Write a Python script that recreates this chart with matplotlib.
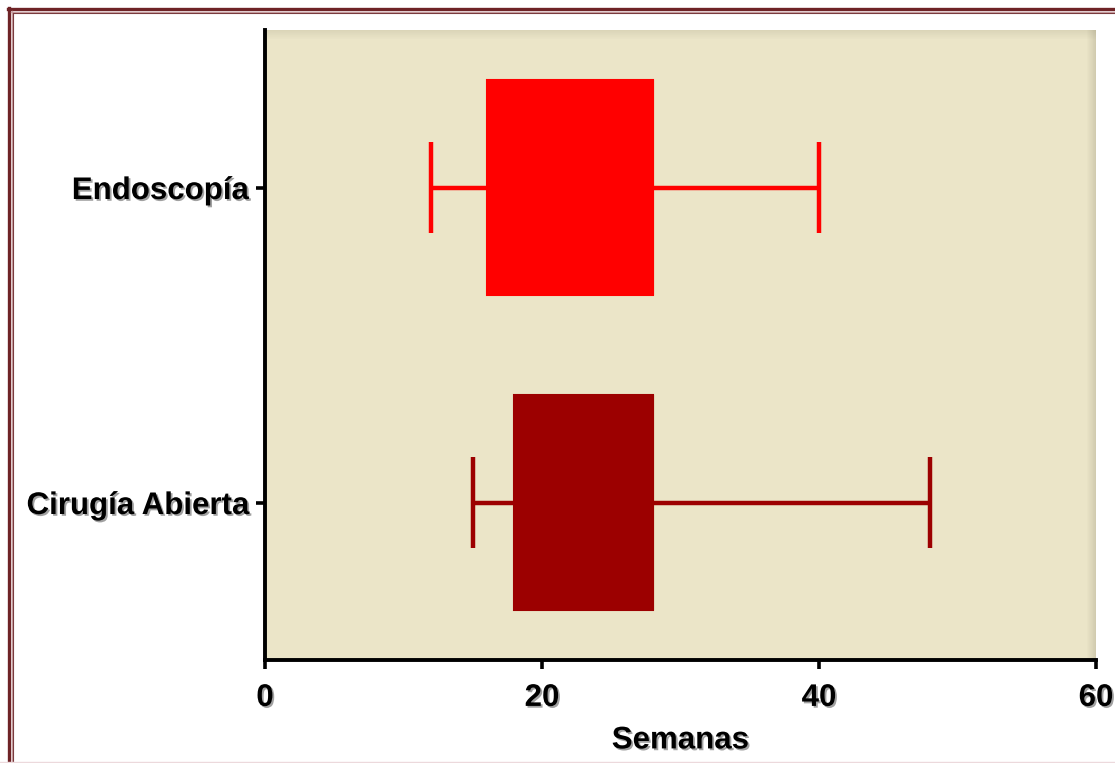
import matplotlib
matplotlib.use("Agg")
import matplotlib.pyplot as plt
import matplotlib.patheffects as pe
from matplotlib.patches import Rectangle
from matplotlib.lines import Line2D

categories = ["Cirugía Abierta", "Endoscopía"]
whislo = [15, 12]
q1 = [18, 16]
med = [28, 28]
q3 = [28, 28]
whishi = [48, 40]
colors = ["#9c0000", "#ff0000"]
xticks = [0, 20, 40, 60]
xlabel = "Semanas"

plt.rcParams['font.family'] = ['Liberation Sans', 'DejaVu Sans']
fig = plt.figure(figsize=(11.15, 7.63), dpi=100)
W, H = 1115, 763
ax = fig.add_axes([265 / W, 1 - 660 / H, (1096 - 265) / W, (660 - 30) / H])
ax.set_facecolor("#ebe5c8")

shadow = [pe.SimplePatchShadow(offset=(1.3, -1.3), shadow_rgbFace="#444444", alpha=0.5), pe.Normal()]

for i, cat in enumerate(categories):
    stats = [dict(label=cat, whislo=whislo[i], q1=q1[i], med=med[i], q3=q3[i], whishi=whishi[i], fliers=[])]
    c = colors[i]
    ax.bxp(stats, positions=[i], vert=False, widths=0.68, capwidths=0.29,
           patch_artist=True, showfliers=False,
           boxprops=dict(facecolor=c, edgecolor=c, linewidth=1.5),
           medianprops=dict(color=c, linewidth=1.5),
           whiskerprops=dict(color=c, linewidth=3.2, solid_capstyle="butt"),
           capprops=dict(color=c, linewidth=3.2, solid_capstyle="butt"),
           zorder=3)

ax.set_xlim(0, 60)
ax.set_ylim(-0.5, 1.5)
ax.set_xticks(xticks)
ax.set_xticklabels([str(t) for t in xticks])
ax.set_yticks(range(len(categories)))
ax.set_yticklabels(categories)

for s in ["top", "right"]:
    ax.spines[s].set_visible(False)
for s in ["left", "bottom"]:
    ax.spines[s].set_linewidth(2.8)
    ax.spines[s].set_color("black")
    ax.spines[s].set_zorder(5)

ax.tick_params(axis="both", direction="out", length=6.5, width=2.6, color="black")
ax.tick_params(axis="x", pad=10)
ax.tick_params(axis="y", pad=5)
for lab in ax.get_xticklabels() + ax.get_yticklabels():
    lab.set_fontsize(22.5)
    lab.set_fontweight("bold")
    lab.set_path_effects(shadow)

ax.set_xlabel(xlabel, fontsize=22.5, fontweight="bold", labelpad=9, path_effects=shadow)

# inner shadow on top and right edges of plot area
n = 9
for k in range(n):
    a = 0.09 * (1 - k / n)
    ax.add_patch(Rectangle((0, 1 - (k + 1) / 630), 1, 1 / 630, transform=ax.transAxes,
                           facecolor="#3a3520", alpha=a, edgecolor="none", zorder=1))
    ax.add_patch(Rectangle((1 - (k + 1) / 831, 0), 1 / 831, 1, transform=ax.transAxes,
                           facecolor="#3a3520", alpha=a * 1.6, edgecolor="none", zorder=1))

# figure frame (top and left visible)
def fx(px):
    return px / W

def fy(py):
    return 1 - py / H

fig.add_artist(Line2D([fx(8), 1], [fy(8.5), fy(8.5)], color="#6e2326", linewidth=2.4))
fig.add_artist(Line2D([fx(8.5), fx(8.5)], [fy(8), 0], color="#6e2326", linewidth=2.4))
fig.add_artist(Line2D([fx(11), 1], [fy(11.5), fy(11.5)], color="#c9a0a2", linewidth=1.0))
fig.add_artist(Line2D([fx(11.5), fx(11.5)], [fy(11), 0], color="#c9a0a2", linewidth=1.0))
fig.add_artist(Line2D([fx(12.5), 1], [fy(12.8), fy(12.8)], color="#7a3a3d", linewidth=0.8))
fig.add_artist(Line2D([fx(12.8), fx(12.8)], [fy(12.5), 0], color="#7a3a3d", linewidth=0.8))
fig.add_artist(Line2D([0, 1], [fy(762), fy(762)], color="#ecd9dc", linewidth=1.0))

fig.savefig("out.png", dpi=100)
